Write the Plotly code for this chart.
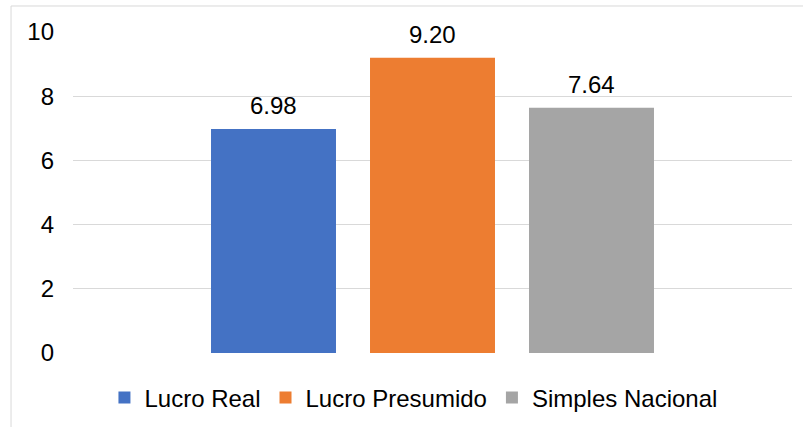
import plotly.graph_objects as go

series_names = ["Lucro Real", "Lucro Presumido", "Simples Nacional"]
series_values = [6.98, 9.20, 7.64]
series_colors = ["#4472C4", "#ED7D31", "#A5A5A5"]
y_ticks = [0, 2, 4, 6, 8, 10]

fig = go.Figure()
for name, val, col in zip(series_names, series_values, series_colors):
    fig.add_trace(go.Bar(
        name=name, x=[name], y=[val], marker_color=col, marker_line_width=0,
        width=0.786,
    ))
    fig.add_annotation(
        x=name, y=val, xref="x", yref="y", text=f"{val:.2f}", showarrow=False,
        yanchor="bottom", yshift=8, font=dict(size=24, color="#000000"),
    )

fig.update_layout(
    width=803, height=427,
    margin=dict(l=73, r=11, t=32, b=74, autoexpand=False),
    paper_bgcolor="white", plot_bgcolor="white",
    font=dict(family="Liberation Sans, Arial, sans-serif", size=24, color="#000000"),
    barmode="overlay",
    showlegend=True,
    legend=dict(orientation="h", x=0.4735, xanchor="center", y=-0.14, yanchor="middle",
                font=dict(size=24), itemwidth=30, traceorder="normal"),
    xaxis=dict(showticklabels=False, showgrid=False, zeroline=False, showline=False,
               range=[-1.261, 3.261]),
    yaxis=dict(range=[0, 10], tickvals=y_ticks, showgrid=True, gridcolor="#D9D9D9",
               gridwidth=1, zeroline=False, showline=False, ticklabelstandoff=18,
               tickfont=dict(size=24)),
    shapes=[dict(type="rect", xref="paper", yref="paper", x0=-0.0862, x1=1.05,
                 y0=-0.3, y1=1.081, line=dict(color="#D9D9D9", width=1),
                 fillcolor="rgba(0,0,0,0)", layer="below")],
)

fig.write_html("out.html")
